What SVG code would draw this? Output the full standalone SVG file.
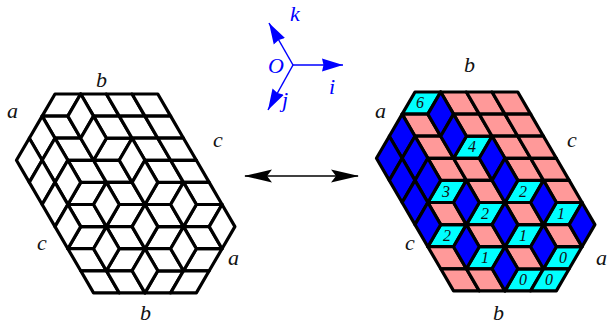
<svg xmlns="http://www.w3.org/2000/svg" width="607" height="325" viewBox="0 0 607 325">
<style>
.t{font-family:"Liberation Serif",serif;font-style:italic;font-size:22px;fill:#111}
.ax{font-family:"Liberation Serif",serif;font-style:italic;font-size:22px;fill:#00f}
.n{font-family:"Liberation Serif",serif;font-style:italic;font-size:16px;fill:#111;text-anchor:middle}
.tile{stroke:#000;stroke-width:3.2;stroke-linejoin:round}
</style>
<defs>
<polygon id="c" points="0,0 25.7,0 12.85,22.1 -12.85,22.1"/>
<polygon id="p" points="0,0 25.7,0 38.55,22.1 12.85,22.1"/>
<polygon id="b" points="0,0 12.85,22.1 0,44.2 -12.85,22.1"/>
<g id="tc">
<use href="#c" x="0" y="0"/><use href="#c" x="51.4" y="44.2"/><use href="#c" x="25.7" y="88.4"/><use href="#c" x="102.8" y="88.4"/>
<use href="#c" x="64.25" y="110.5"/><use href="#c" x="141.35" y="110.5"/><use href="#c" x="25.7" y="132.6"/><use href="#c" x="102.8" y="132.6"/>
<use href="#c" x="64.25" y="154.7"/><use href="#c" x="141.35" y="154.7"/><use href="#c" x="102.8" y="176.8"/><use href="#c" x="128.5" y="176.8"/>
</g>
<g id="tp">
<use href="#p" x="25.7" y="0"/><use href="#p" x="51.4" y="0"/><use href="#p" x="77.1" y="0"/>
<use href="#p" x="-12.85" y="22.1"/><use href="#p" x="38.55" y="22.1"/><use href="#p" x="64.25" y="22.1"/><use href="#p" x="89.95" y="22.1"/>
<use href="#p" x="0" y="44.2"/><use href="#p" x="77.1" y="44.2"/><use href="#p" x="102.8" y="44.2"/>
<use href="#p" x="12.85" y="66.3"/><use href="#p" x="38.55" y="66.3"/><use href="#p" x="89.95" y="66.3"/><use href="#p" x="115.65" y="66.3"/>
<use href="#p" x="51.4" y="88.4"/><use href="#p" x="128.5" y="88.4"/>
<use href="#p" x="12.85" y="110.5"/><use href="#p" x="89.95" y="110.5"/>
<use href="#p" x="51.4" y="132.6"/><use href="#p" x="128.5" y="132.6"/>
<use href="#p" x="12.85" y="154.7"/><use href="#p" x="89.95" y="154.7"/>
<use href="#p" x="25.7" y="176.8"/><use href="#p" x="51.4" y="176.8"/>
</g>
<g id="tb">
<use href="#b" x="25.7" y="0"/><use href="#b" x="-12.85" y="22.1"/><use href="#b" x="38.55" y="22.1"/>
<use href="#b" x="-25.7" y="44.2"/><use href="#b" x="0" y="44.2"/><use href="#b" x="77.1" y="44.2"/>
<use href="#b" x="-12.85" y="66.3"/><use href="#b" x="12.85" y="66.3"/><use href="#b" x="89.95" y="66.3"/>
<use href="#b" x="0" y="88.4"/><use href="#b" x="51.4" y="88.4"/><use href="#b" x="128.5" y="88.4"/>
<use href="#b" x="12.85" y="110.5"/><use href="#b" x="89.95" y="110.5"/><use href="#b" x="167.05" y="110.5"/>
<use href="#b" x="51.4" y="132.6"/><use href="#b" x="128.5" y="132.6"/>
<use href="#b" x="89.95" y="154.7"/>
</g>
<marker id="ah" markerUnits="userSpaceOnUse" markerWidth="22" markerHeight="14" refX="21" refY="7" orient="auto" viewBox="0 0 22 14"><path d="M0,0.5 L21,7 L0,13.5 L1.5,7 Z" fill="#00f"/></marker>
<marker id="bh" markerUnits="userSpaceOnUse" markerWidth="30" markerHeight="14" refX="27" refY="7" orient="auto-start-reverse" viewBox="0 0 30 14"><path d="M0,0.5 L28,7 L0,13.5 L5,7 Z" fill="#000"/></marker>
</defs>

<g id="left-tiling" class="tile" transform="translate(55,94)">
<use href="#tc" fill="#fff"/><use href="#tp" fill="#fff"/><use href="#tb" fill="#fff"/>
</g>
<g id="right-tiling" class="tile" transform="translate(415,92)">
<use href="#tc" fill="#0ff"/><use href="#tp" fill="#f99"/><use href="#tb" fill="#00f"/>
</g>

<g id="right-numbers">
<text class="n" x="420" y="108">6</text>
<text class="n" x="472" y="152">4</text>
<text class="n" x="446" y="197">3</text>
<text class="n" x="523" y="197">2</text>
<text class="n" x="485" y="219">2</text>
<text class="n" x="561" y="219">1</text>
<text class="n" x="447" y="241">2</text>
<text class="n" x="523" y="241">1</text>
<text class="n" x="485" y="263">1</text>
<text class="n" x="563" y="263">0</text>
<text class="n" x="523" y="285">0</text>
<text class="n" x="549" y="285">0</text>
</g>

<g id="left-labels">
<text class="t" x="7" y="118">a</text>
<text class="t" x="96" y="87">b</text>
<text class="t" x="213" y="147">c</text>
<text class="t" x="37" y="250">c</text>
<text class="t" x="228" y="265">a</text>
<text class="t" x="140" y="320">b</text>
</g>
<g id="right-labels">
<text class="t" x="375" y="118">a</text>
<text class="t" x="464" y="72">b</text>
<text class="t" x="567" y="147">c</text>
<text class="t" x="405" y="250">c</text>
<text class="t" x="596" y="265">a</text>
<text class="t" x="493" y="320">b</text>
</g>

<g id="connectors">
<line x1="293" y1="65" x2="343" y2="65" stroke="#00f" stroke-width="1.5" marker-end="url(#ah)"/>
<line x1="293" y1="65" x2="269" y2="23" stroke="#00f" stroke-width="1.5" marker-end="url(#ah)"/>
<line x1="293" y1="65" x2="268" y2="110" stroke="#00f" stroke-width="1.5" marker-end="url(#ah)"/>
<line x1="245" y1="176" x2="358" y2="176" stroke="#000" stroke-width="1.5" marker-start="url(#bh)" marker-end="url(#bh)"/>
</g>
<g id="axes-labels">
<text class="ax" x="290" y="21">k</text>
<text class="ax" x="268" y="73">O</text>
<text class="ax" x="329" y="94">i</text>
<text class="ax" x="282" y="107">j</text>
</g>
</svg>
